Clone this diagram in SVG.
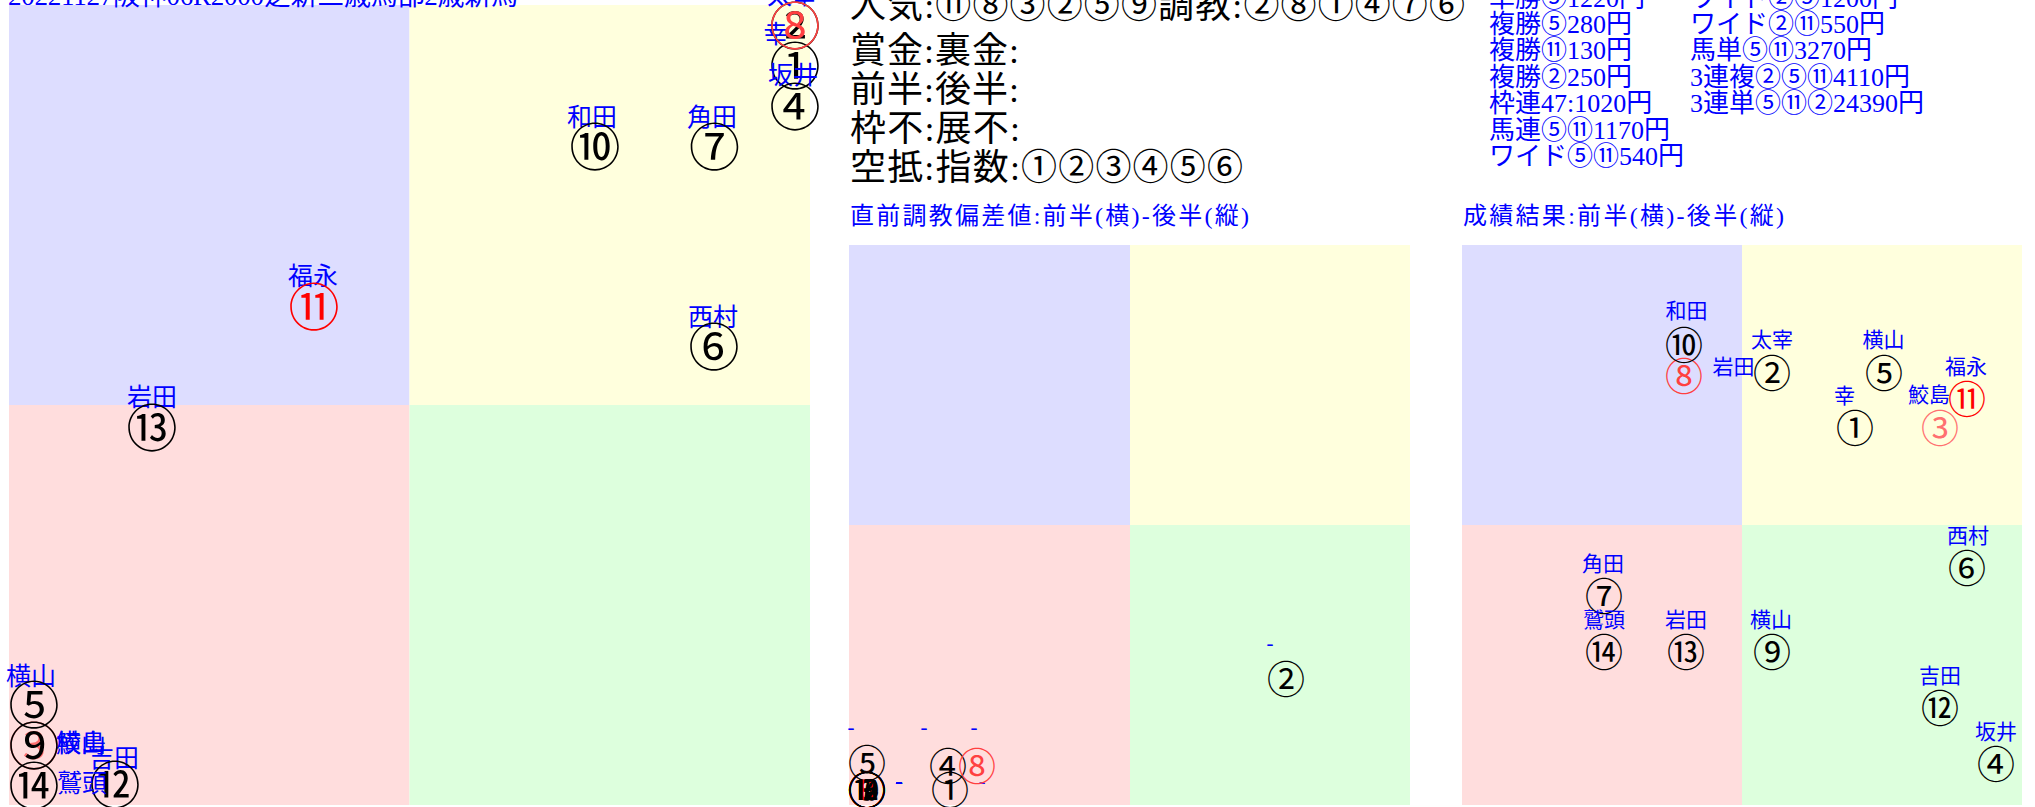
<svg xmlns="http://www.w3.org/2000/svg" width="2035" height="807" viewBox="0 0 2035 807">
<style>
.bg{fill:#FFFFFF}
.qb{fill:#DDDDFF}.qy{fill:#FFFFDD}.qp{fill:#FFDDDD}.qg{fill:#DDFFDD}
.t{font-family:"Liberation Serif","Noto Sans CJK JP",serif}
.blue{fill:#0000FF}
.blk{fill:#000000}
.lbl{font-family:"Liberation Serif","Noto Sans CJK JP",serif;fill:#0000FF;text-anchor:middle}
.la{font-size:25px}
.ls{font-size:21px}
.num{font-family:"Noto Sans CJK JP",sans-serif;text-anchor:middle}
.na{font-size:51px}
.ns{font-size:38px}
.k{fill:#000000}.r1{fill:#FF0000}.r2{fill:#FF4040}.r3{fill:#FF7070}
</style>
<rect class="bg" x="0" y="0" width="2035" height="807"/>

<!-- Panel A -->
<g id="panelA">
<rect class="qb" x="9" y="5" width="400.5" height="400"/>
<rect class="qy" x="409.5" y="5" width="400.5" height="400"/>
<rect class="qp" x="9" y="405" width="400.5" height="400"/>
<rect class="qg" x="409.5" y="405" width="400.5" height="400"/>
<text class="t blue" x="8" y="5" font-size="27" textLength="510" lengthAdjust="spacing">20221127阪神06R2000芝新三歳馬部2歳新馬</text>
</g>
<g id="a-h1"><text class="lbl la" x="776" y="42.5">幸</text><text class="num na k" x="795" y="85">①</text></g>
<g id="a-h2"><text class="lbl la" x="792" y="4">太宰</text><text class="num na k" x="795" y="45">②</text></g>
<g id="a-h3"><text class="lbl la" x="81" y="751.5">鮫島</text><text class="num na r3" x="34" y="764.5">③</text></g>
<g id="a-h4"><text class="lbl la" x="793" y="83.5">坂井</text><text class="num na k" x="795" y="126">④</text></g>
<g id="a-h5"><text class="lbl la" x="31" y="684.5">横山</text><text class="num na k" x="34" y="723.5">⑤</text></g>
<g id="a-h6"><text class="lbl la" x="713" y="325.5">西村</text><text class="num na k" x="714" y="366">⑥</text></g>
<g id="a-h7"><text class="lbl la" x="712" y="125.5">角田</text><text class="num na k" x="714.5" y="165.5">⑦</text></g>
<g id="a-h8"><text class="num na r2" x="795" y="45">⑧</text></g>
<g id="a-h9"><text class="lbl la" x="81" y="751.5">横山</text><text class="num na k" x="34" y="764.5">⑨</text></g>
<g id="a-h10"><text class="lbl la" x="592" y="126">和田</text><text class="num na k" x="595" y="165.5">⑩</text></g>
<g id="a-h11"><text class="lbl la" x="313" y="284.5">福永</text><text class="num na r1" x="314" y="326">⑪</text></g>
<g id="a-h12"><text class="lbl la" x="114" y="766.5">吉田</text><text class="num na k" x="115" y="804">⑫</text></g>
<g id="a-h13"><text class="lbl la" x="152" y="405.5">岩田</text><text class="num na k" x="152" y="447">⑬</text></g>
<g id="a-h14"><text class="lbl la" x="82" y="791.5">鷲頭</text><text class="num na k" x="34" y="805">⑭</text></g>

<!-- Info blocks -->
<g id="info" class="t blk" font-size="36">
<text x="850" y="18" textLength="615" lengthAdjust="spacing">人気:⑪⑧③②⑤⑨調教:②⑧①④⑦⑥</text>
<text x="850" y="63" textLength="169" lengthAdjust="spacing">賞金:裏金:</text>
<text x="850" y="102" textLength="169" lengthAdjust="spacing">前半:後半:</text>
<text x="850" y="141" textLength="170" lengthAdjust="spacing">枠不:展不:</text>
<text x="850" y="180" textLength="393" lengthAdjust="spacing">空抵:指数:①②③④⑤⑥</text>
</g>
<g id="payout" class="t blue" font-size="26">
<text x="1489" y="6.5">単勝⑤1220円</text>
<text x="1489" y="32.9">複勝⑤280円</text>
<text x="1489" y="59.3">複勝⑪130円</text>
<text x="1489" y="85.7">複勝②250円</text>
<text x="1489" y="112.1">枠連47:1020円</text>
<text x="1489" y="138.5">馬連⑤⑪1170円</text>
<text x="1489" y="164.9">ワイド⑤⑪540円</text>
<text x="1690" y="6.5">ワイド②⑤1200円</text>
<text x="1690" y="32.9">ワイド②⑪550円</text>
<text x="1690" y="59.3">馬単⑤⑪3270円</text>
<text x="1690" y="85.7">3連複②⑤⑪4110円</text>
<text x="1690" y="112.1">3連単⑤⑪②24390円</text>
</g>

<!-- Panel B -->
<g id="panelB">
<text class="t blue" x="850" y="223.5" font-size="24" textLength="399" lengthAdjust="spacing">直前調教偏差値:前半(横)-後半(縦)</text>
<rect class="qb" x="849" y="245" width="281" height="280"/>
<rect class="qy" x="1130" y="245" width="280" height="280"/>
<rect class="qp" x="849" y="525" width="281" height="280"/>
<rect class="qg" x="1130" y="525" width="280" height="280"/>
</g>
<g id="b-h1"><text class="lbl ls" x="982" y="788">-</text><text class="num ns k" x="950" y="804">①</text></g>
<g id="b-h2"><text class="lbl ls" x="1270" y="650">-</text><text class="num ns k" x="1286" y="693">②</text></g>
<g id="b-h3"><text class="lbl ls" x="899" y="788">-</text><text class="num ns r3" x="867" y="804">③</text></g>
<g id="b-h4"><text class="lbl ls" x="924" y="734">-</text><text class="num ns k" x="948" y="780">④</text></g>
<g id="b-h5"><text class="lbl ls" x="851" y="734">-</text><text class="num ns k" x="867" y="777">⑤</text></g>
<g id="b-h6"><text class="lbl ls" x="899" y="788">-</text><text class="num ns k" x="867" y="804">⑥</text></g>
<g id="b-h7"><text class="lbl ls" x="899" y="788">-</text><text class="num ns k" x="867" y="804">⑦</text></g>
<g id="b-h8"><text class="lbl ls" x="974" y="734">-</text><text class="num ns r2" x="977" y="780">⑧</text></g>
<g id="b-h9"><text class="lbl ls" x="899" y="788">-</text><text class="num ns k" x="867" y="804">⑨</text></g>
<g id="b-h10"><text class="lbl ls" x="899" y="788">-</text><text class="num ns k" x="867" y="804">⑩</text></g>
<g id="b-h11"><text class="lbl ls" x="899" y="788">-</text><text class="num ns r1" x="867" y="804">⑪</text></g>
<g id="b-h12"><text class="lbl ls" x="899" y="788">-</text><text class="num ns k" x="867" y="804">⑫</text></g>
<g id="b-h13"><text class="lbl ls" x="899" y="788">-</text><text class="num ns k" x="867" y="804">⑬</text></g>
<g id="b-h14"><text class="lbl ls" x="899" y="788">-</text><text class="num ns k" x="867" y="804">⑭</text></g>

<!-- Panel C -->
<g id="panelC">
<text class="t blue" x="1463" y="223.5" font-size="24" textLength="321" lengthAdjust="spacing">成績結果:前半(横)-後半(縦)</text>
<rect class="qb" x="1462" y="245" width="280" height="280"/>
<rect class="qy" x="1742" y="245" width="280" height="280"/>
<rect class="qp" x="1462" y="525" width="280" height="280"/>
<rect class="qg" x="1742" y="525" width="280" height="280"/>
</g>
<g id="c-h1"><text class="lbl ls" x="1844.5" y="403">幸</text><text class="num ns k" x="1855" y="442">①</text></g>
<g id="c-h2"><text class="lbl ls" x="1772" y="346.5">太宰</text><text class="num ns k" x="1772" y="387">②</text></g>
<g id="c-h3"><text class="lbl ls" x="1929" y="402">鮫島</text><text class="num ns r3" x="1940" y="442">③</text></g>
<g id="c-h4"><text class="lbl ls" x="1996" y="739">坂井</text><text class="num ns k" x="1996" y="778">④</text></g>
<g id="c-h5"><text class="lbl ls" x="1883.5" y="346.5">横山</text><text class="num ns k" x="1884" y="387">⑤</text></g>
<g id="c-h6"><text class="lbl ls" x="1968" y="542.5">西村</text><text class="num ns k" x="1967" y="582">⑥</text></g>
<g id="c-h7"><text class="lbl ls" x="1603" y="571">角田</text><text class="num ns k" x="1604" y="610">⑦</text></g>
<g id="c-h8"><text class="lbl ls" x="1733.5" y="374">岩田</text><text class="num ns r2" x="1684" y="390">⑧</text></g>
<g id="c-h9"><text class="lbl ls" x="1771" y="626.5">横山</text><text class="num ns k" x="1772" y="666">⑨</text></g>
<g id="c-h10"><text class="lbl ls" x="1686.5" y="318">和田</text><text class="num ns k" x="1684" y="359">⑩</text></g>
<g id="c-h11"><text class="lbl ls" x="1966" y="374">福永</text><text class="num ns r1" x="1967" y="413">⑪</text></g>
<g id="c-h12"><text class="lbl ls" x="1940" y="683">吉田</text><text class="num ns k" x="1940" y="722">⑫</text></g>
<g id="c-h13"><text class="lbl ls" x="1686" y="626.5">岩田</text><text class="num ns k" x="1686" y="666">⑬</text></g>
<g id="c-h14"><text class="lbl ls" x="1604" y="626.5">鷲頭</text><text class="num ns k" x="1604" y="666">⑭</text></g>

<g id="connectors"></g>
</svg>
